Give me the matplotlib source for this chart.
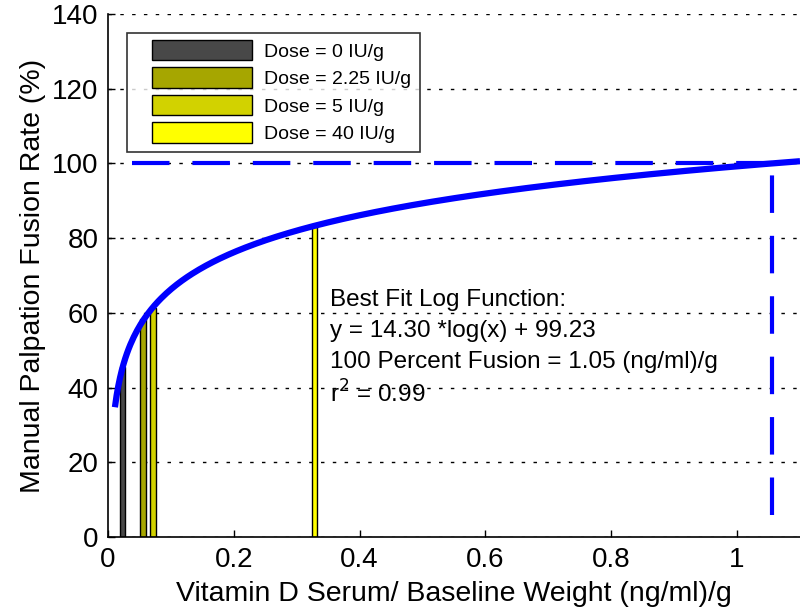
import numpy as np
import matplotlib
matplotlib.use('Agg')
from matplotlib import pyplot as plt
from matplotlib.patches import Rectangle
from matplotlib.container import BarContainer
from matplotlib.legend_handler import HandlerPatch, update_from_first_child

plt.rcParams['font.family'] = ['Liberation Sans', 'DejaVu Sans']

# bar data
doses = ['Dose = 0 IU/g', 'Dose = 2.25 IU/g', 'Dose = 5 IU/g', 'Dose = 40 IU/g']
serum_x = [0.023, 0.056, 0.072, 0.328]
fusion_y = [45.5, 58.4, 61.3, 83.0]
bar_colors = ['#484848', '#a6a600', '#d2d200', '#ffff00']

# fitted log curve as printed on the chart: y = a*log(x) + b
fit_a = 14.30
fit_b = 99.23
fit_x_start = 0.011
fit_x_end = 1.1
x_full = 1.055  # 100 percent fusion point
hline_start = 0.038
vline_bottom = 5.9

xticks = [0, 0.2, 0.4, 0.6, 0.8, 1]
xticklabels = ['0', '0.2', '0.4', '0.6', '0.8', '1']
yticks = [0, 20, 40, 60, 80, 100, 120, 140]

fit_text = ['Best Fit Log Function:',
            'y = 14.30 *log(x) + 99.23',
            '100 Percent Fusion = 1.05 (ng/ml)/g',
            r'r$^2$ = 0.99']
fit_text_y = [63.4, 55.1, 46.8, 38.3]


def shifted_patch(legend, orig_handle, xdescent, ydescent, width, height, fontsize):
    # leave some room on the left of the legend swatch (matlab style)
    off = 12
    return Rectangle((-xdescent + off, -ydescent - 1.5), width - off, height + 3)


def main():
    fig = plt.figure(figsize=(8, 6.15), dpi=100)
    ax = fig.add_axes([108 / 800, 78 / 615, 692 / 800, 523 / 615])

    for xv, yv, c, lab in zip(serum_x, fusion_y, bar_colors, doses):
        ax.bar(xv, yv, width=0.009, color=c, edgecolor='black', linewidth=1, label=lab, zorder=2)

    xs = np.linspace(fit_x_start, fit_x_end, 400)
    ax.plot(xs, fit_a * np.log(xs) + fit_b, color='blue', linewidth=4.5, zorder=4,
            solid_capstyle='butt')

    # dashed guide lines
    ax.plot([hline_start, x_full], [100, 100], color='blue', linewidth=3,
            dashes=(9, 5.5), zorder=3)
    ax.plot([x_full, x_full], [vline_bottom, 100], color='blue', linewidth=3,
            dashes=(9, 5.5), zorder=3)

    for s, yv in zip(fit_text, fit_text_y):
        ax.text(0.353, yv, s, fontsize=17.5, va='center')

    ax.set_xlim(0, 1.1)
    ax.set_ylim(0, 140)
    ax.set_xticks(xticks)
    ax.set_xticklabels(xticklabels)
    ax.set_yticks(yticks)
    ax.tick_params(direction='in', labelsize=20, length=5, width=1, pad=7)
    ax.yaxis.grid(True, color='black', linestyle=(0, (2.5, 6)), linewidth=1)
    ax.set_axisbelow(True)
    ax.spines['top'].set_visible(False)
    ax.spines['right'].set_visible(False)
    ax.spines['left'].set_linewidth(1.2)
    ax.spines['bottom'].set_linewidth(1.2)

    ax.set_xlabel('Vitamin D Serum/ Baseline Weight (ng/ml)/g', fontsize=20.5, labelpad=6)
    ax.set_ylabel('Manual Palpation Fusion Rate (%)', fontsize=20.5, labelpad=4)

    hp = HandlerPatch(patch_func=shifted_patch, update_func=update_from_first_child)
    leg = ax.legend(loc='upper left', bbox_to_anchor=(19 / 692, 1 - 19 / 523),
                    fontsize=14, frameon=True, fancybox=False, edgecolor='black',
                    handlelength=6.0, handleheight=0.9, labelspacing=0.45,
                    borderpad=0.45, handletextpad=0.62, borderaxespad=0,
                    handler_map={BarContainer: hp})
    leg.get_frame().set_linewidth(1.2)
    leg.set_zorder(5)

    fig.savefig('out.png', dpi=100)


if __name__ == '__main__':
    main()
